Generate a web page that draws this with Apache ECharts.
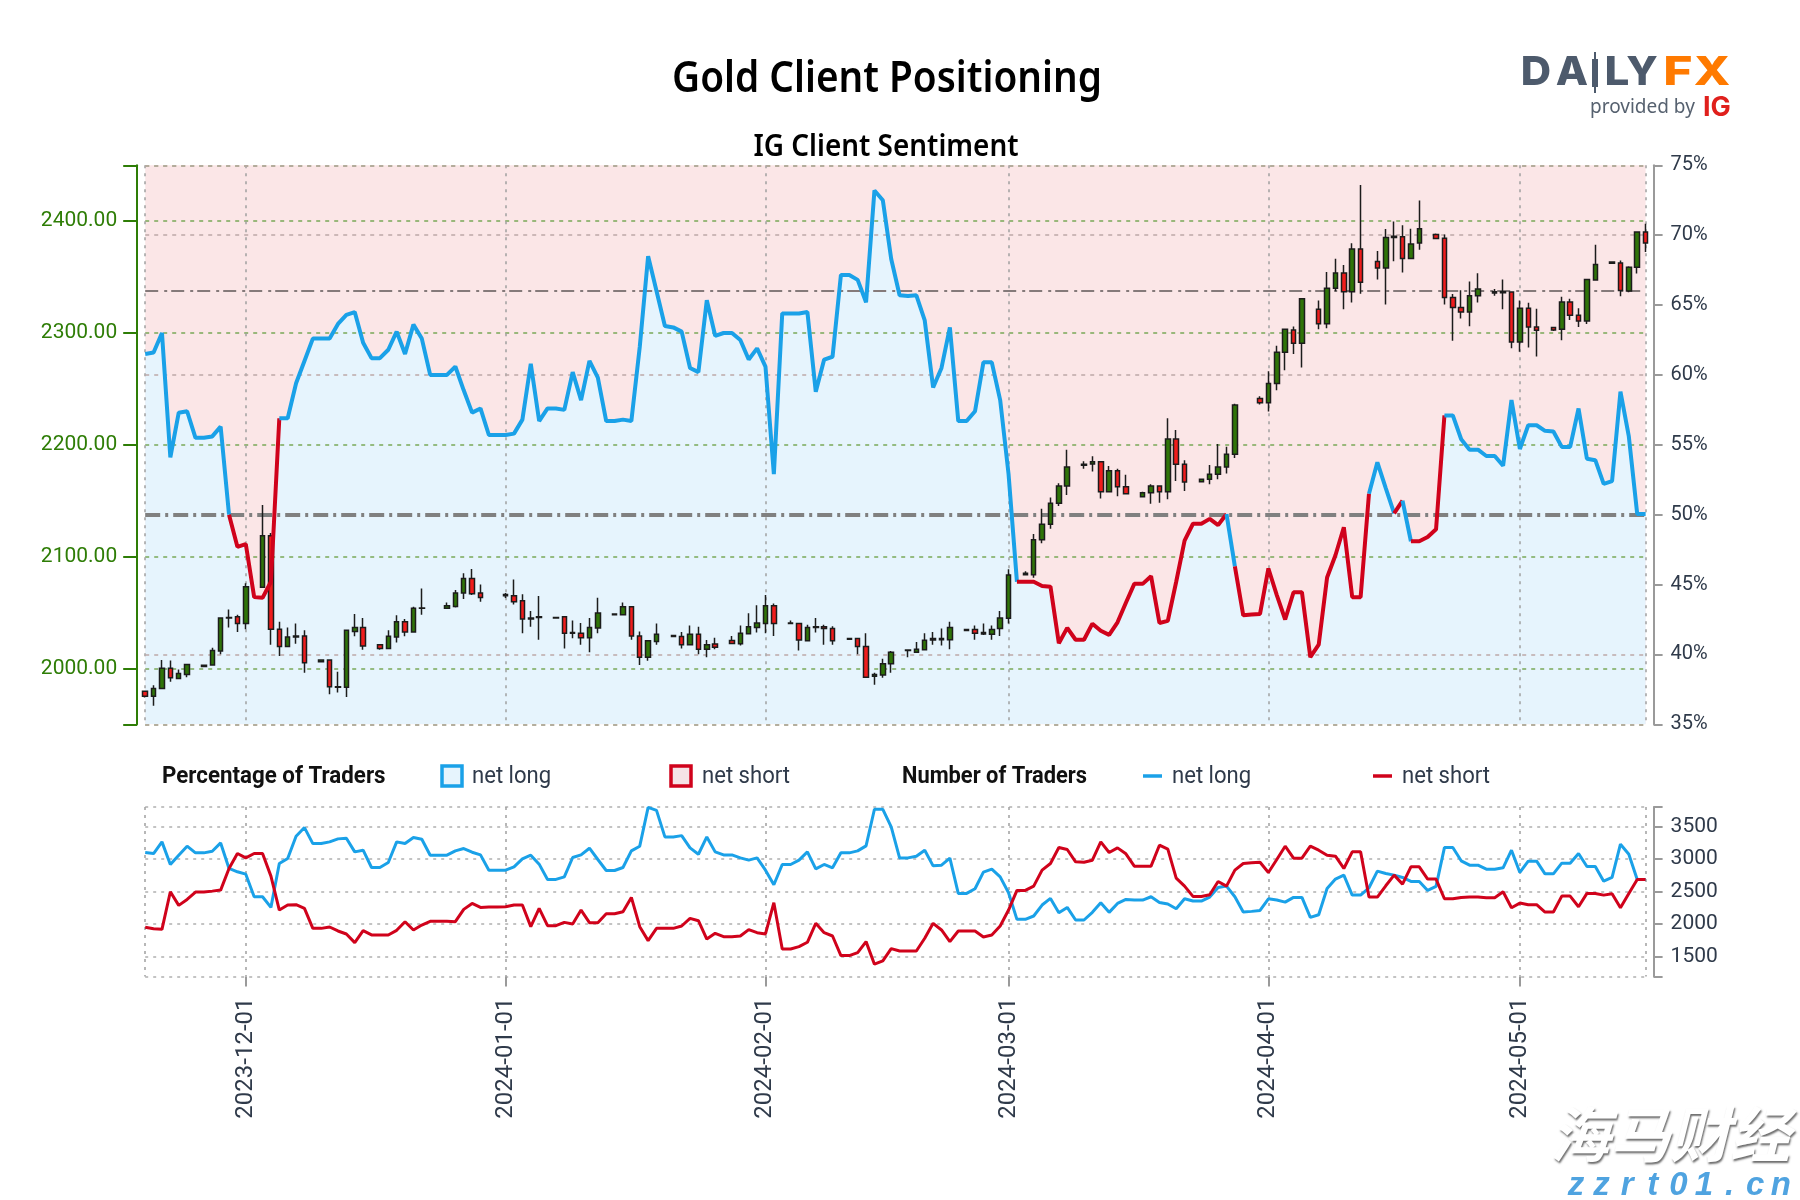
<!DOCTYPE html>
<html>
<head>
<meta charset="utf-8">
<title>Gold Client Positioning</title>
<script src="https://cdn.jsdelivr.net/npm/echarts@6/dist/echarts.min.js"></script>
<style>
html,body{margin:0;padding:0;background:#fff;}
#main{width:1800px;height:1200px;}
</style>
</head>
<body>
<div id="main"></div>
<script>
var firstDay = '2023-11-19';
var dayCount = 180;
var monthStarts = ['2023-12-01','2024-01-01','2024-02-01','2024-03-01','2024-04-01','2024-05-01'];
var priceTicks = [2000,2100,2200,2300,2400];
var tradersTicks = [1500,2000,2500,3000,3500];
var pctGridLevels = [35,40,60,70,75];

// open, close, low, high - null where there was no session
var candles = [
[1979.5,1975,1974,1980],[1975,1982,1966.5,1985],[1982,2000,1982,2007.5],[2000,1991.5,1988,2007],[1991,1995.5,1990.8,1999],[1994.5,2003.4,1992,2004],null,
[2001.7,2002.7,2001,2003.4],[2003,2016,2002.4,2018.4],[2015.4,2045,2012.6,2045],[2045,2045.4,2036.6,2052.6],[2046,2040,2032.5,2047.8],[2040,2073,2035,2076],null,
[2072.4,2118.5,2072,2146],[2118.5,2035,2021,2121],[2035,2019.5,2011,2041.7],[2019.5,2028,2019,2036.5],[2028,2029,2022,2040],[2029,2005,1996,2034],null,
[2006,2007.5,2006,2008],[2007.5,1983.6,1976.8,2007.5],[1983.6,1983,1978.5,1997],[1983,2034,1974.4,2034],[2033,2036.5,2028.7,2048.5],[2036.5,2020,2016.7,2045],null,
[2021,2017.8,2016.7,2021.2],[2017.8,2028.7,2017,2034],[2028,2041.7,2023,2047.5],[2041.7,2032.5,2028.7,2044],[2032.5,2053.6,2032.5,2055],[2053.6,2054,2048,2071.4],null,
null,[2053.6,2056,2053.6,2058.8],[2055.3,2067.3,2054.3,2070],[2067.3,2080.3,2062,2085],[2080.3,2066.6,2065.6,2088.8],[2067.3,2063.2,2059.4,2075],null,
null,[2064.9,2065.9,2062.9,2067.3],[2064.9,2059.4,2057,2079.3],[2060.5,2044,2031.4,2066.3],[2044,2045,2037.2,2051.2],[2045.4,2046,2025.6,2064.6],null,
[2045.4,2045,2044.6,2045.8],[2046,2031.4,2017.8,2046],[2031.4,2032,2027,2042.7],[2031.4,2027.3,2021,2040.6],[2027.3,2036.5,2014.3,2045],[2036,2049.5,2031.4,2063],null,
[2047.8,2048.5,2047.5,2049],[2048,2055,2048,2058.8],[2055,2029,2025.6,2055],[2029,2010,2003,2033],[2010,2024.6,2006.8,2024.6],[2024,2030.4,2021,2040],null,
[2029.4,2028.4,2028,2030],[2028.4,2021,2017.8,2032.5],[2021,2030.4,2020.5,2038.3],[2030.4,2017,2012.6,2037.2],[2017,2021,2010,2025.3],[2021.8,2018.8,2017,2027.3],null,
[2024.9,2022.2,2022,2029],[2022,2031.4,2020.5,2038.3],[2031,2037.2,2030.4,2049.2],[2036.5,2040.6,2032,2056.4],[2040,2056,2031.4,2065.6],[2056,2040,2029,2058],null,
[2040.6,2040,2039.3,2042.7],[2040,2025.3,2016,2040],[2024.6,2036.5,2024.6,2039],[2036.5,2037.2,2032,2045],[2037.2,2035.5,2021,2039],[2035.5,2024.6,2021,2037.6],null,
[2026.6,2026,2025.6,2027],[2026.6,2019.5,2012.6,2027.3],[2019.5,1992,1992,2031.4],[1993,1994.5,1985.3,1996],[1994,2004,1991.5,2008.5],[2004,2014.3,1996,2015.4],null,
[2016,2016.3,2010,2017],[2014.3,2017,2013.7,2023.6],[2016.7,2025,2016,2031.4],[2025.3,2026.6,2021,2032.5],[2026.6,2025.6,2020.5,2035.5],[2025.6,2036.5,2017,2041.7],null,
[2033.8,2034.8,2033.5,2035],[2034.8,2031.4,2025.6,2038.3],[2032,2030.7,2029.7,2040],[2030.4,2034.8,2025.6,2038.3],[2035.5,2045,2029,2051.2],[2044.7,2083.4,2040,2088.5],null,
[2083.7,2085,2083.4,2086.8],[2083.7,2115,2081,2120],[2115,2128.8,2111.7,2142.5],[2128.8,2147.6,2124.7,2152.7],[2147.6,2163,2145,2165.3],[2163,2180,2155,2195.4],null,
[2181.4,2182.4,2178.3,2185],[2182.7,2184.5,2176,2189.6],[2184.5,2157.8,2151.7,2185],[2157.8,2176.6,2157.8,2180.7],[2176.6,2162.3,2153.7,2178.3],[2162.3,2156,2156,2173],null,
[2153.4,2157,2153.4,2157.8],[2157,2163,2147,2164.6],[2163,2157.8,2148,2163.6],[2157.8,2205,2151,2223.4],[2205,2182.4,2167.4,2213],[2182.4,2166.4,2158.5,2186],null,
[2166.7,2169,2166,2169.5],[2169,2173.5,2164.6,2181.7],[2173.5,2180,2169,2200.5],[2180,2191.3,2174,2198],[2191.3,2235.4,2187.9,2236.4],null,null,
[2241.2,2237.4,2235.7,2243.2],[2237.4,2254.5,2229.6,2265.4],[2254.5,2282.5,2248.4,2288.3],[2282.5,2303,2266.4,2303],[2302.3,2290.4,2280.8,2305.4],[2290.4,2330.3,2268.8,2330.3],null,
[2320.8,2308,2303,2328.6],[2308,2339.6,2304,2354.2],[2339.6,2353.2,2337,2365.9],[2353.2,2336.5,2320.8,2360.4],[2336.5,2374.7,2327,2379.9],[2374.7,2345,2334.8,2432],null,
[2363.5,2357.7,2347.4,2373],[2357.7,2385,2325.2,2392.5],[2385,2386,2363.8,2399.3],[2385.7,2366.2,2353.6,2396],[2366.2,2379.2,2365.5,2392.8],[2380,2392.8,2374,2418],null,
[2387.7,2384,2383.5,2388.5],[2384.3,2331.3,2325.2,2387.7],[2331.3,2322.5,2292.7,2334.4],[2322.5,2318.4,2312.6,2337.8],[2318.4,2333,2305.7,2345.7],[2333,2338.9,2326.9,2353],null,
[2336.5,2335.5,2333,2339],[2335.6,2336.5,2320.8,2347.5],[2336.2,2291.7,2286,2336.2],[2291.7,2321.7,2282.8,2328.8],[2321.7,2305,2286.7,2326.7],[2305,2302,2278.6,2321.4],null,
[2304.5,2302.4,2301.5,2304.5],[2303,2327.3,2293.2,2332],[2327.3,2315.4,2311.3,2330.3],[2315.4,2310.4,2305,2321.7],[2310.4,2347.5,2307.7,2348],[2347,2360.8,2347,2378.6],null,
[2363,2362,2361.7,2363.2],[2362.3,2337.7,2332.6,2364.4],[2337.1,2358.5,2336,2359.4],[2358.5,2390,2352.8,2390.5],[2390,2380,2372,2397.3]
];

// percent of traders net long
var pctLong = [
61.5,61.6,63,54.1,57.3,57.4,55.5,55.5,55.6,56.3,
50,47.7,47.9,44.1,44.05,45.2,56.9,56.9,59.4,61,
62.6,62.6,62.6,63.65,64.3,64.5,62.3,61.2,61.2,61.8,
63.1,61.5,63.6,62.6,60,60,60,60.6,58.9,57.3,
57.6,55.7,55.7,55.7,55.8,56.8,60.8,56.7,57.6,57.6,
57.5,60.2,58.2,61,59.8,56.7,56.7,56.8,56.7,62,
68.5,66,63.5,63.4,63.1,60.5,60.2,65.35,62.8,63,
63,62.5,61.1,61.9,60.6,52.9,64.4,64.4,64.4,64.5,
58.8,61.1,61.3,67.15,67.15,66.8,65.2,73.2,72.5,68.3,
65.7,65.65,65.7,63.9,59.1,60.5,63.4,56.7,56.7,57.4,
60.9,60.9,58.2,52.9,45.2,45.2,45.2,44.9,44.85,40.8,
41.9,41.05,41.05,42.2,41.7,41.4,42.3,43.7,45.05,45.05,
45.6,42.25,42.4,45.2,48.15,49.35,49.35,49.7,49.25,50.05,
46.3,42.8,42.85,42.9,46.15,44.25,42.5,44.45,44.45,39.8,
40.7,45.5,47.1,49.1,44.1,44.1,51.5,53.75,51.9,50.1,
51,48.1,48.1,48.4,48.95,57.1,57.1,55.4,54.65,54.65,
54.2,54.2,53.5,58.2,54.7,56.4,56.4,56,55.95,54.85,
54.85,57.6,54,53.9,52.2,52.4,58.8,55.6,50.05,50.05
];

// stretches of the percent line drawn in the net short colour [from,to]
var shortSideRuns = [[10,16],[104,129],[130,146],[149,150],[151,155]];

var tradersLong = [
3098,3083,3261,2915,3057,3195,3093,3093,3118,3245,
2854,2803,2767,2421,2421,2258,2930,3006,3347,3480,
3235,3235,3261,3307,3317,3108,3134,2869,2869,2945,
3261,3235,3327,3301,3057,3057,3057,3123,3159,3103,
3062,2828,2828,2828,2879,3001,3057,2920,2686,2686,
2726,3022,3062,3164,2991,2823,2823,2869,3123,3195,
3790,3744,3337,3337,3357,3169,3072,3337,3108,3062,
3062,3016,2981,3016,2828,2604,2915,2915,2981,3108,
2848,2915,2864,3093,3093,3123,3200,3760,3760,3490,
3016,3016,3042,3134,2894,2904,3011,2472,2472,2543,
2798,2843,2726,2482,2075,2075,2126,2294,2395,2177,
2258,2065,2065,2182,2329,2182,2319,2380,2370,2370,
2421,2334,2309,2238,2390,2355,2355,2416,2563,2584,
2421,2187,2197,2212,2390,2370,2339,2411,2411,2105,
2146,2548,2691,2752,2446,2446,2558,2813,2777,2752,
2716,2655,2655,2518,2579,3174,3174,2971,2904,2904,
2843,2843,2864,3134,2793,2966,2966,2772,2772,2935,
2935,3083,2884,2884,2660,2716,3225,3072,2686,2686
];

var tradersShort = [
1953,1932,1922,2497,2289,2380,2492,2492,2507,2523,
2854,3083,3016,3083,3083,2737,2217,2294,2299,2243,
1937,1937,1958,1897,1851,1718,1902,1836,1836,1836,
1907,2039,1912,1988,2044,2044,2044,2039,2228,2319,
2258,2263,2263,2268,2294,2294,1963,2243,1978,1978,
2029,2003,2217,2024,2024,2161,2161,2192,2411,1963,
1749,1937,1937,1937,1973,2090,2054,1774,1861,1810,
1810,1820,1917,1871,1851,2329,1622,1622,1657,1724,
2014,1871,1820,1520,1520,1566,1734,1388,1439,1627,
1591,1591,1591,1785,2014,1912,1734,1897,1897,1897,
1805,1836,1973,2217,2518,2518,2584,2828,2930,3174,
3144,2955,2950,2981,3261,3098,3169,3078,2889,2889,
2889,3210,3149,2706,2584,2426,2426,2451,2655,2584,
2828,2930,2940,2950,2793,2991,3195,3011,3011,3195,
3134,3057,3042,2854,3108,3108,2416,2416,2589,2752,
2614,2879,2879,2691,2691,2390,2390,2411,2416,2416,
2406,2406,2497,2253,2324,2299,2299,2187,2187,2431,
2431,2268,2472,2472,2446,2467,2253,2472,2686,2686
];

var BLUE = '#1aa1e8', RED = '#d0021b', GREEN = '#2e7d06', SLATE = '#2f3a4a';

function buildDays(start, n) {
    var out = [];
    var t = Date.parse(start + 'T00:00:00Z');
    for (var i = 0; i < n; i++) {
        out.push(new Date(t + i * 86400000).toISOString().slice(0, 10));
    }
    return out;
}

var days = buildDays(firstDay, dayCount);

function isMonthStart(index, value) {
    return monthStarts.indexOf(value) >= 0;
}
function isGridDay(index, value) {
    return index === 0 || index === dayCount - 1 || monthStarts.indexOf(value) >= 0;
}

// one line series for each coloured stretch of the percent line
function pctLineSeries() {
    var out = [];
    var last = pctLong.length - 1;
    function addRun(from, to, color) {
        if (to <= from) return;
        var vals = pctLong.map(function (v, i) { return i >= from && i <= to ? v : null; });
        out.push({type: 'line', xAxisIndex: 0, yAxisIndex: 1, data: vals, z: 7, symbol: 'none',
                  lineStyle: {color: color, width: 4}});
    }
    var pos = 0;
    shortSideRuns.forEach(function (run) {
        addRun(pos, run[0], BLUE);
        addRun(run[0], run[1], RED);
        pos = run[1];
    });
    addRun(pos, last, BLUE);
    return out;
}

var candleData = candles.map(function (c) {
    return c === null ? ['-', '-', '-', '-'] : c;
});

var priceGridTicks = [1950].concat(priceTicks, [2449.5]);
var tradersGridTicks = [1200].concat(tradersTicks, [3795]);
var labelFont = 'Roboto, sans-serif';
var vGrid = {show: true, interval: isGridDay, lineStyle: {color: '#a0a0a0', width: 1.5, type: [3, 5]}};

var graphics = [];
function addText(x, y, text, size, color, weight, extra) {
    extra = extra || {};
    var style = {x: 0, y: 0, text: text, fontFamily: labelFont, fontSize: size, fill: color, fontWeight: weight || 'normal', textVerticalAlign: 'middle'};
    for (var k in extra) {
        if (k !== 'scaleX') style[k] = extra[k];
    }
    graphics.push({type: 'text', x: x, y: y, scaleX: extra.scaleX || 1, style: style, silent: true});
}

// titles
var titleFont = '"Noto Sans", sans-serif';
addText(887, 79, 'Gold Client Positioning', 44, '#000', 600, {fontFamily: titleFont, textAlign: 'center', scaleX: 0.88});
addText(886, 147, 'IG Client Sentiment', 31, '#000', 600, {fontFamily: titleFont, textAlign: 'center', scaleX: 0.9});

// legend row
addText(162, 777, 'Percentage of Traders', 24, '#111', 'bold', {scaleX: 0.93});
graphics.push({type: 'rect', shape: {x: 442, y: 766, width: 20, height: 20}, style: {fill: '#e6f4fd', stroke: BLUE, lineWidth: 3.5}});
addText(472, 777, 'net long', 24, SLATE, 'normal', {scaleX: 0.92});
graphics.push({type: 'rect', shape: {x: 671, y: 766, width: 20, height: 20}, style: {fill: '#f5e3e6', stroke: RED, lineWidth: 3.5}});
addText(702, 777, 'net short', 24, SLATE, 'normal', {scaleX: 0.92});
addText(902, 777, 'Number of Traders', 24, '#111', 'bold', {scaleX: 0.91});
graphics.push({type: 'line', shape: {x1: 1143, y1: 776, x2: 1162, y2: 776}, style: {stroke: BLUE, lineWidth: 3.5}});
addText(1172, 777, 'net long', 24, SLATE, 'normal', {scaleX: 0.92});
graphics.push({type: 'line', shape: {x1: 1373, y1: 776, x2: 1392, y2: 776}, style: {stroke: RED, lineWidth: 3.5}});
addText(1402, 777, 'net short', 24, SLATE, 'normal', {scaleX: 0.92});

// logo
var logoLetters = [['D',1536,'#4d5a6c',1.05],['A',1572,'#4d5a6c',1.05],['L',1617,'#4d5a6c',1.1],['Y',1642,'#4d5a6c',1.05],['F',1678,'#ff7a00',1.25],['X',1712,'#ff7a00',1.2]];
logoLetters.forEach(function (l) {
    addText(l[1], 73, l[0], 40, l[2], 800, {fontFamily: 'Inter, sans-serif', textAlign: 'center', scaleX: l[3]});
});
graphics.push({type: 'rect', shape: {x: 1592, y: 59, width: 6, height: 28}, style: {fill: '#4d5a6c'}});
graphics.push({type: 'rect', shape: {x: 1594, y: 52, width: 2, height: 41}, style: {fill: '#4d5a6c'}});
addText(1590, 108, 'provided by', 19, '#56616f', 'normal', {fontFamily: '"Noto Sans", sans-serif'});
addText(1703, 108, 'IG', 27, '#e0201c', 'bold', {fontFamily: 'Inter, sans-serif'});

// site mark, bottom right
var markFont = '"Noto Sans CJK SC", sans-serif';
addText(1550, 1134, '海马财经', 60, '#ffffff', 'bold', {fontFamily: markFont, fontStyle: 'italic', textShadowColor: 'rgba(60,60,60,.75)', textShadowBlur: 2, textShadowOffsetX: 1, textShadowOffsetY: 2});
'zzrt01.cn'.split('').forEach(function (ch, i) {
    addText(1576 + i * 25.6, 1186, ch, 33, '#4fa3e0', 'bold', {fontFamily: 'Liberation Sans, sans-serif', fontStyle: 'italic', textAlign: 'center'});
});

var option = {
    animation: false,
    backgroundColor: '#fff',
    graphic: graphics,
    grid: [
        {left: 145.2, width: 1500.4, top: 165.3, height: 559, show: true, backgroundColor: '#fbe6e7', borderWidth: 0},
        {left: 145.2, width: 1500.4, top: 807, height: 169.5, show: true, backgroundColor: '#fff', borderWidth: 0}
    ],
    xAxis: [
        {type: 'category', gridIndex: 0, data: days, boundaryGap: false, z: 2,
         axisLine: {show: false}, axisTick: {show: false}, axisLabel: {show: false}, splitLine: vGrid},
        {type: 'category', gridIndex: 1, data: days, boundaryGap: false, z: 2,
         axisLine: {show: false},
         axisTick: {show: true, interval: isMonthStart, length: 10, lineStyle: {color: '#9a9a9a', width: 2}},
         axisLabel: {show: true, interval: isMonthStart, rotate: 90, margin: 21, fontFamily: labelFont, fontSize: 24, color: SLATE},
         splitLine: vGrid}
    ],
    yAxis: [
        {type: 'value', gridIndex: 0, position: 'left', offset: 8, min: 1950, max: 2449.5, z: 2,
         axisLine: {show: true, lineStyle: {color: GREEN, width: 2}},
         axisTick: {show: true, customValues: priceGridTicks, length: 14, lineStyle: {color: GREEN, width: 2}},
         axisLabel: {customValues: priceTicks, margin: 20, padding: [7, 0, 0, 0], fontFamily: labelFont, fontSize: 21, color: GREEN,
                     formatter: function (v) { return v.toFixed(2); }},
         splitLine: {show: true, lineStyle: {color: '#7aa858', width: 1.5, type: [4, 5]}}},
        {type: 'value', gridIndex: 0, position: 'right', offset: 8, min: 35, max: 75, interval: 5, z: 2,
         axisLine: {show: true, lineStyle: {color: '#9a9a9a', width: 2}},
         axisTick: {show: true, length: 9, lineStyle: {color: '#9a9a9a', width: 2}},
         axisLabel: {margin: 17, padding: [7, 0, 0, 0], fontFamily: labelFont, fontSize: 20, color: SLATE, formatter: '{value}%'},
         splitLine: {show: false}},
        {type: 'value', gridIndex: 1, position: 'right', offset: 8, min: 1200, max: 3795, z: 2,
         axisLine: {show: true, lineStyle: {color: '#9a9a9a', width: 2}},
         axisTick: {show: true, customValues: tradersGridTicks, length: 9, lineStyle: {color: '#9a9a9a', width: 2}},
         axisLabel: {customValues: tradersTicks, margin: 17, fontFamily: labelFont, fontSize: 21, color: SLATE,
                     formatter: function (v) { return String(v); }},
         splitLine: {show: true, lineStyle: {color: '#b0b0b0', width: 1.5, type: [3, 5]}}}
    ],
    series: [
        {type: 'line', name: 'fill', xAxisIndex: 0, yAxisIndex: 1, data: pctLong, z: 1, silent: true,
         symbol: 'none', lineStyle: {width: 0}, areaStyle: {color: '#e6f4fd', origin: 'start', opacity: 1},
         markLine: {silent: true, symbol: 'none', z: 3, animation: false, label: {show: false},
            data: pctGridLevels.map(function (v) {
                return {yAxis: v, lineStyle: {color: '#bda8a8', width: 1.5, type: [4, 5]}};
            }).concat([
                {yAxis: 66, lineStyle: {color: '#857a7a', width: 2, type: [13, 6, 3, 4]}},
                {yAxis: 50, lineStyle: {color: '#808080', width: 4, type: [15, 5, 3, 5]}}
            ])}},
        {type: 'candlestick', name: 'price', xAxisIndex: 0, yAxisIndex: 0, data: candleData, z: 6, clip: false, barWidth: 5,
         itemStyle: {color: '#2f7408', color0: '#f01c1c', borderColor: '#1c1c1c', borderColor0: '#1c1c1c', borderWidth: 1.5}}
    ].concat(pctLineSeries(), [
        {type: 'line', name: 'traders long', xAxisIndex: 1, yAxisIndex: 2, data: tradersLong, z: 7, symbol: 'none',
         lineStyle: {color: BLUE, width: 3}},
        {type: 'line', name: 'traders short', xAxisIndex: 1, yAxisIndex: 2, data: tradersShort, z: 8, symbol: 'none',
         lineStyle: {color: RED, width: 3}}
    ])
};

var chart = echarts.init(document.getElementById('main'), null, {renderer: 'canvas'});
chart.setOption(option);
</script>
</body>
</html>
